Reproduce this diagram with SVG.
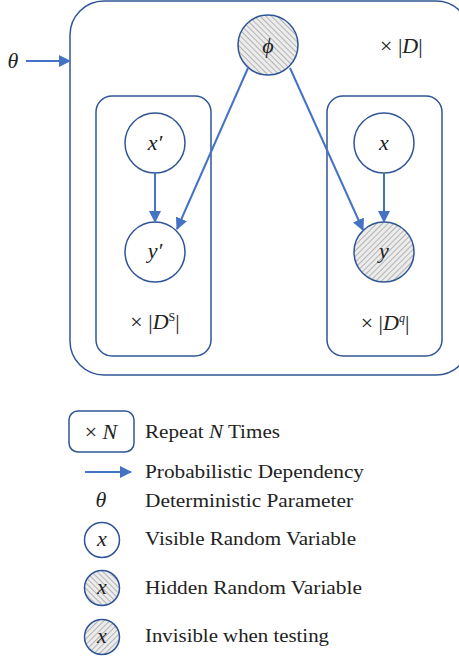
<svg xmlns="http://www.w3.org/2000/svg" width="459" height="657" viewBox="0 0 459 657">
<defs>
<pattern id="hatchL" patternUnits="userSpaceOnUse" width="4" height="4" patternTransform="rotate(-45)">
<rect width="4" height="4" fill="#ececec"/>
<line x1="0" y1="0" x2="0" y2="4" stroke="#a6a6a6" stroke-width="1.6"/>
</pattern>
<pattern id="hatchR" patternUnits="userSpaceOnUse" width="4" height="4" patternTransform="rotate(45)">
<rect width="4" height="4" fill="#ececec"/>
<line x1="0" y1="0" x2="0" y2="4" stroke="#a6a6a6" stroke-width="1.6"/>
</pattern>
<marker id="ah" markerUnits="userSpaceOnUse" markerWidth="12" markerHeight="12" viewBox="0 0 12 12" refX="11" refY="6" orient="auto">
<path d="M0,0 L12,6 L0,12 Z" fill="#4472c4"/>
</marker>
</defs>
<style>
.plate{fill:none;stroke:#2f5597;stroke-width:1.5}
.node{fill:#fff;stroke:#2f5597;stroke-width:1.5}
.hidL{fill:url(#hatchL);stroke:#2f5597;stroke-width:1.5}
.hidR{fill:url(#hatchR);stroke:#2f5597;stroke-width:1.5}
.edge{stroke:#4472c4;stroke-width:2;fill:none;marker-end:url(#ah)}
.t{font-family:"Liberation Serif","Times New Roman",serif;font-size:19px;fill:#222}
.m{font-family:"Liberation Serif","Times New Roman",serif;font-size:22px;fill:#222}
.i{font-style:italic}
</style>
<g id="plate-D">
<rect class="plate" x="70" y="1" width="400" height="374" rx="34"/>
<text class="m" x="380" y="53">× |<tspan class="i">D</tspan>|</text>
</g>
<g id="plate-DS">
<rect class="plate" x="96" y="96" width="115" height="260" rx="16"/>
<text class="m" x="155" y="329" text-anchor="middle">× |<tspan class="i">D</tspan><tspan font-size="12" dy="-8">S</tspan><tspan dy="8">|</tspan></text>
</g>
<g id="plate-Dq">
<rect class="plate" x="327" y="96" width="115" height="260" rx="16"/>
<text class="m" x="385" y="330" text-anchor="middle">× |<tspan class="i">D</tspan><tspan font-size="12" class="i" dy="-8">q</tspan><tspan dy="8">|</tspan></text>
</g>
<g id="node-theta">
<text class="m i" x="13" y="68" text-anchor="middle">θ</text>
</g>
<g id="node-phi">
<circle class="hidL" cx="268" cy="45" r="30"/>
<text class="m i" x="268" y="53" text-anchor="middle">ϕ</text>
</g>
<g id="node-xp">
<circle class="node" cx="155" cy="143" r="30"/>
<text class="m i" x="155" y="150" text-anchor="middle">x′</text>
</g>
<g id="node-yp">
<circle class="node" cx="155" cy="252" r="30"/>
<text class="m i" x="155" y="258" text-anchor="middle">y′</text>
</g>
<g id="node-x">
<circle class="node" cx="384" cy="143" r="30"/>
<text class="m i" x="384" y="150" text-anchor="middle">x</text>
</g>
<g id="node-y">
<circle class="hidR" cx="384" cy="252" r="30"/>
<text class="m i" x="384" y="258" text-anchor="middle">y</text>
</g>
<g id="connectors">
<line class="edge" x1="26" y1="61" x2="70" y2="61"/>
<line class="edge" x1="248" y1="68" x2="177" y2="229"/>
<line class="edge" x1="290" y1="68" x2="363" y2="230"/>
<line class="edge" x1="155" y1="173" x2="155" y2="222"/>
<line class="edge" x1="384" y1="173" x2="384" y2="222"/>
</g>
<g id="legend">
<rect class="plate" x="69" y="411" width="65" height="41" rx="9"/>
<text class="m" x="101" y="439" text-anchor="middle">× <tspan class="i">N</tspan></text>
<text class="t" x="145" y="438" textLength="135" lengthAdjust="spacingAndGlyphs">Repeat <tspan class="i">N</tspan> Times</text>
<line class="edge" x1="85" y1="472" x2="131" y2="472"/>
<text class="t" x="145" y="478" textLength="219" lengthAdjust="spacingAndGlyphs">Probabilistic Dependency</text>
<text class="m i" x="101" y="507" text-anchor="middle">θ</text>
<text class="t" x="145" y="507" textLength="208" lengthAdjust="spacingAndGlyphs">Deterministic Parameter</text>
<circle class="node" cx="102" cy="540" r="17.5"/>
<text class="m i" x="102" y="546" text-anchor="middle">x</text>
<text class="t" x="145" y="545" textLength="211" lengthAdjust="spacingAndGlyphs">Visible Random Variable</text>
<circle class="hidL" cx="102" cy="588" r="17.5"/>
<text class="m i" x="102" y="594" text-anchor="middle">x</text>
<text class="t" x="145" y="594" textLength="217" lengthAdjust="spacingAndGlyphs">Hidden Random Variable</text>
<circle class="hidR" cx="102" cy="637" r="17.5"/>
<text class="m i" x="102" y="643" text-anchor="middle">x</text>
<text class="t" x="145" y="642" textLength="184" lengthAdjust="spacingAndGlyphs">Invisible when testing</text>
</g>
</svg>
